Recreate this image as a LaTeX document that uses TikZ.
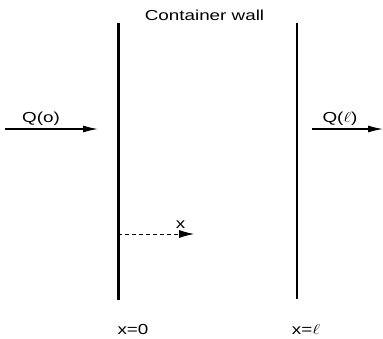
\documentclass[tikz,border=0pt]{standalone}
\usepackage{fontspec}
\setmainfont{Liberation Sans}
\usetikzlibrary{arrows.meta}
\newcommand{\widetxt}[1]{\scalebox{1.3}[1]{#1}}
\begin{document}
\begin{tikzpicture}[x=1pt,y=-1pt,
  wall/.style={line width=2.4pt},
  flow/.style={line width=1.2pt,-{Latex[length=15pt,width=7pt]}},
  lbl/.style={font=\fontsize{14.5}{17}\selectfont,inner sep=0pt,anchor=base}]
\useasboundingbox (0,0) rectangle (383,338);
\coordinate (w1t) at (118.3,22.5);
\coordinate (w1b) at (118.3,300);
\coordinate (w2t) at (296.7,22.5);
\coordinate (w2b) at (296.7,299);
\draw[wall] (w1t) -- (w1b);
\draw[wall] (w2t) -- (w2b);
\node[lbl] (cw) at (204.5,20.5) {\widetxt{Container wall}};
\coordinate (a1s) at (5,129);
\coordinate (a1e) at (98,129);
\draw[flow] (a1s) -- (a1e);
\node[lbl] (q0) at (41,122) {\widetxt{Q(o)}};
\coordinate (a2s) at (312,129);
\coordinate (a2e) at (383,129);
\draw[flow] (a2s) -- (a2e);
\node[lbl] (ql) at (340,122) {\widetxt{Q($\ell$)}};
\coordinate (ds) at (118.3,234);
\coordinate (de) at (194,234);
\draw[line width=0.8pt,dash pattern=on 4pt off 3pt,-{Latex[length=15pt,width=8pt]}] (ds) -- (de);
\node[lbl] (xl) at (180.5,228) {\widetxt{x}};
\node[lbl] (x0) at (133,334) {\widetxt{x=0}};
\node[lbl] (xe) at (306,334) {\widetxt{x=$\ell$}};
\end{tikzpicture}
\end{document}
